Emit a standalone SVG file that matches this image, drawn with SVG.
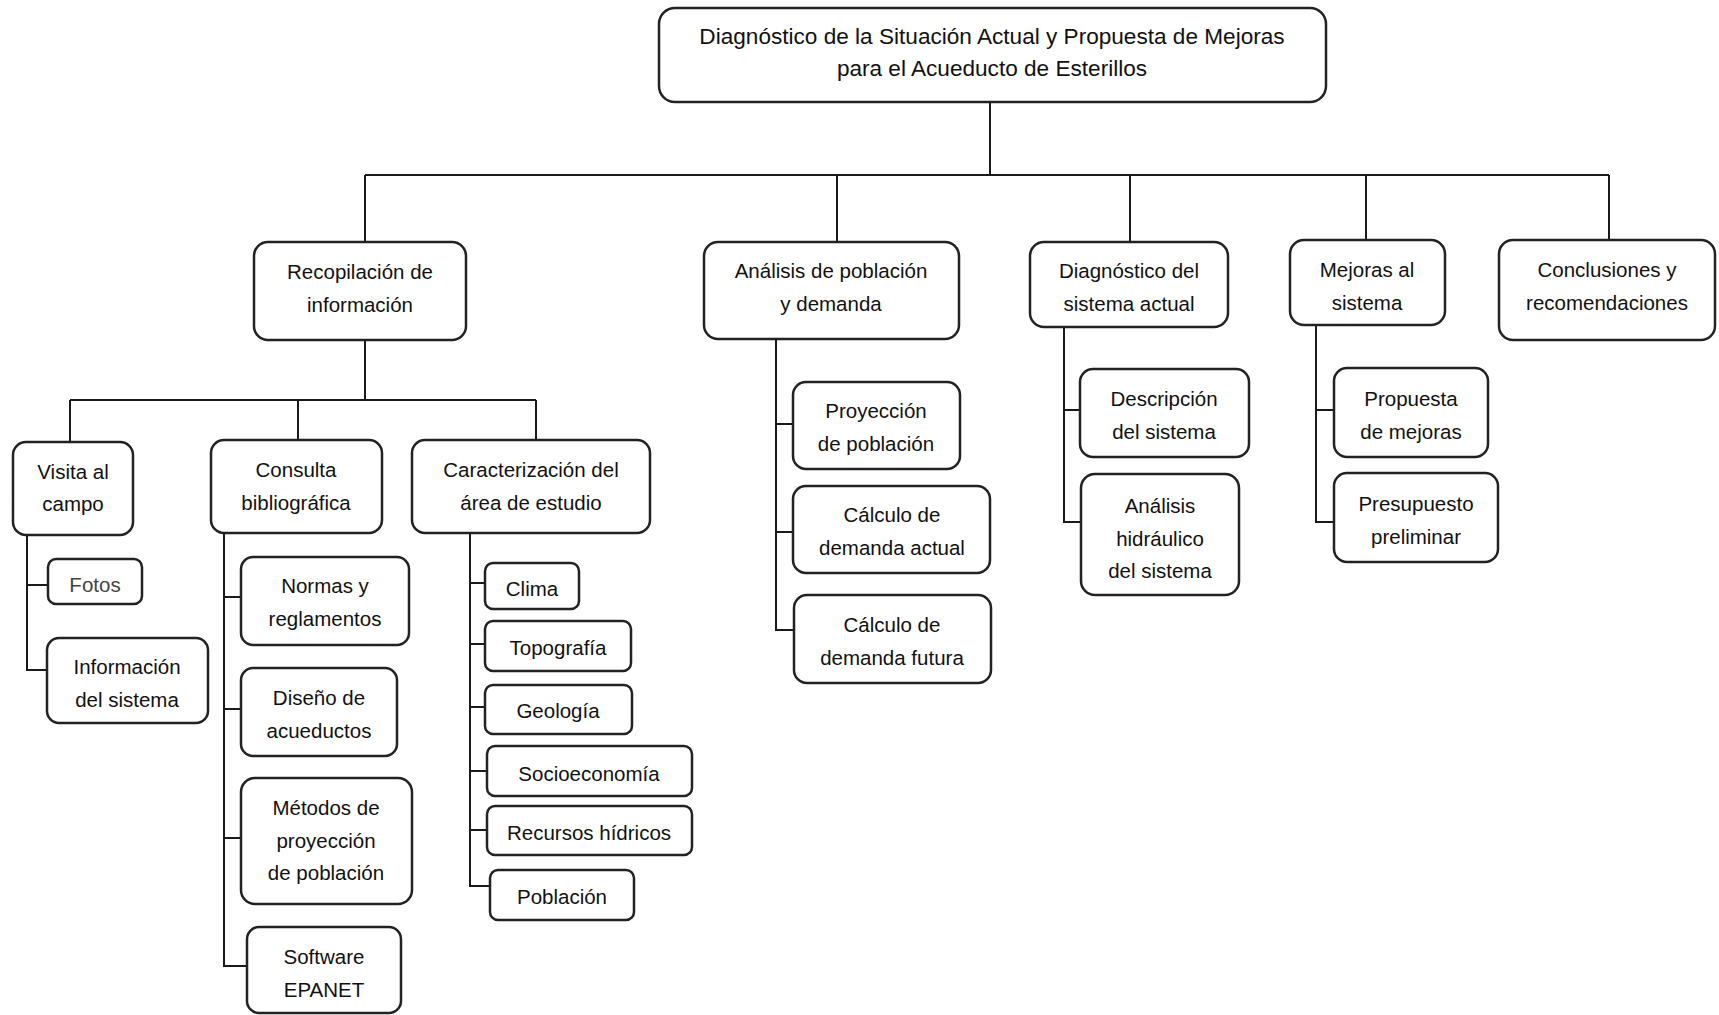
<svg xmlns="http://www.w3.org/2000/svg" width="1719" height="1015" viewBox="0 0 1719 1015">
<style>
rect.n{fill:#fff;stroke:#222;stroke-width:2.5}
text{font-family:"Liberation Sans",Arial,sans-serif;font-size:20.5px;fill:#111;text-anchor:middle}
text.t{font-size:22.6px}
text.g{fill:#444}
#connectors path{fill:none;stroke:#1a1a1a;stroke-width:2}
</style>
<rect width="1719" height="1015" fill="#fff"/>
<g id="connectors">
<path d="M990,102 V175 M365,175 H1609 M365,175 V242 M837,175 V242 M1130,175 V242 M1366,175 V240 M1609,175 V240"/>
<path d="M365,340 V400 M70,400 H536 M70,400 V442 M298,400 V440 M536,400 V440"/>
<path d="M27,535 V670 H47 M27,585 H48"/>
<path d="M224,533 V966 H247 M224,597 H241 M224,709 H241 M224,838 H241"/>
<path d="M470,533 V886 H490 M470,583 H485 M470,644 H485 M470,707 H485 M470,771 H487 M470,830 H487"/>
<path d="M776,339 V630 H794 M776,424 H793 M776,532 H793"/>
<path d="M1064,327 V522 H1081 M1064,410 H1080"/>
<path d="M1316,325 V522 H1334 M1316,410 H1334"/>
</g>
<g id="root"><rect class="n" x="659" y="8" width="667" height="94" rx="16"/><text class="t" x="992" y="44">Diagnóstico de la Situación Actual y Propuesta de Mejoras</text><text class="t" x="992" y="76">para el Acueducto de Esterillos</text></g>
<g id="recopilacion"><rect class="n" x="254" y="242" width="212" height="98" rx="14"/><text x="360" y="279">Recopilación de</text><text x="360" y="312">información</text></g>
<g id="analisis"><rect class="n" x="704" y="242" width="255" height="97" rx="14"/><text x="831" y="278">Análisis de población</text><text x="831" y="311">y demanda</text></g>
<g id="diagnostico"><rect class="n" x="1030" y="242" width="198" height="85" rx="14"/><text x="1129" y="278">Diagnóstico del</text><text x="1129" y="311">sistema actual</text></g>
<g id="mejoras"><rect class="n" x="1290" y="240" width="155" height="85" rx="14"/><text x="1367" y="277">Mejoras al</text><text x="1367" y="310">sistema</text></g>
<g id="conclusiones"><rect class="n" x="1499" y="240" width="216" height="100" rx="14"/><text x="1607" y="277">Conclusiones y</text><text x="1607" y="310">recomendaciones</text></g>
<g id="visita"><rect class="n" x="13" y="442" width="120" height="93" rx="13"/><text x="73" y="479">Visita al</text><text x="73" y="511">campo</text></g>
<g id="consulta"><rect class="n" x="211" y="440" width="171" height="93" rx="13"/><text x="296" y="477">Consulta</text><text x="296" y="510">bibliográfica</text></g>
<g id="caracterizacion"><rect class="n" x="412" y="440" width="238" height="93" rx="13"/><text x="531" y="477">Caracterización del</text><text x="531" y="510">área de estudio</text></g>
<g id="fotos"><rect class="n" x="48" y="559" width="94" height="45" rx="8"/><text class="g" x="95" y="592">Fotos</text></g>
<g id="informacion"><rect class="n" x="47" y="638" width="161" height="85" rx="12"/><text x="127" y="674">Información</text><text x="127" y="707">del sistema</text></g>
<g id="normas"><rect class="n" x="241" y="557" width="168" height="88" rx="12"/><text x="325" y="593">Normas y</text><text x="325" y="626">reglamentos</text></g>
<g id="diseno"><rect class="n" x="241" y="668" width="156" height="88" rx="12"/><text x="319" y="705">Diseño de</text><text x="319" y="738">acueductos</text></g>
<g id="metodos"><rect class="n" x="241" y="778" width="171" height="126" rx="14"/><text x="326" y="815">Métodos de</text><text x="326" y="848">proyección</text><text x="326" y="880">de población</text></g>
<g id="software"><rect class="n" x="247" y="927" width="154" height="86" rx="12"/><text x="324" y="964">Software</text><text x="324" y="997">EPANET</text></g>
<g id="clima"><rect class="n" x="485" y="563" width="94" height="46" rx="8"/><text x="532" y="596">Clima</text></g>
<g id="topografia"><rect class="n" x="485" y="621" width="146" height="50" rx="8"/><text x="558" y="655">Topografía</text></g>
<g id="geologia"><rect class="n" x="485" y="685" width="147" height="49" rx="8"/><text x="558" y="718">Geología</text></g>
<g id="socioeconomia"><rect class="n" x="487" y="746" width="205" height="50" rx="8"/><text x="589" y="781">Socioeconomía</text></g>
<g id="recursos"><rect class="n" x="487" y="806" width="205" height="49" rx="8"/><text x="589" y="840">Recursos hídricos</text></g>
<g id="poblacion"><rect class="n" x="490" y="870" width="144" height="50" rx="8"/><text x="562" y="904">Población</text></g>
<g id="proyeccion"><rect class="n" x="793" y="382" width="167" height="87" rx="13"/><text x="876" y="418">Proyección</text><text x="876" y="451">de población</text></g>
<g id="demanda-actual"><rect class="n" x="793" y="486" width="197" height="87" rx="13"/><text x="892" y="522">Cálculo de</text><text x="892" y="555">demanda actual</text></g>
<g id="demanda-futura"><rect class="n" x="794" y="595" width="197" height="88" rx="13"/><text x="892" y="632">Cálculo de</text><text x="892" y="665">demanda futura</text></g>
<g id="descripcion"><rect class="n" x="1080" y="369" width="169" height="88" rx="13"/><text x="1164" y="406">Descripción</text><text x="1164" y="439">del sistema</text></g>
<g id="hidraulico"><rect class="n" x="1081" y="474" width="158" height="121" rx="14"/><text x="1160" y="513">Análisis</text><text x="1160" y="546">hidráulico</text><text x="1160" y="578">del sistema</text></g>
<g id="propuesta"><rect class="n" x="1334" y="368" width="154" height="89" rx="13"/><text x="1411" y="406">Propuesta</text><text x="1411" y="439">de mejoras</text></g>
<g id="presupuesto"><rect class="n" x="1334" y="473" width="164" height="89" rx="13"/><text x="1416" y="511">Presupuesto</text><text x="1416" y="544">preliminar</text></g>
</svg>
